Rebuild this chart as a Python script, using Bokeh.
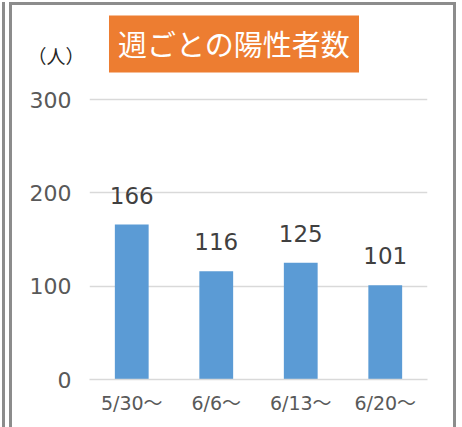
from bokeh.plotting import figure
from bokeh.models import ColumnDataSource, LabelSet, Label, FixedTicker, LinearAxis
from bokeh.core.properties import value
from bokeh.embed import file_html
from bokeh.resources import INLINE

# ---- data ----
weeks = ["5/30〜", "6/6〜", "6/13〜", "6/20〜"]
cases = [166, 116, 125, 101]
y_ticks = [0, 100, 200, 300]
title_text = "週ごとの陽性者数"
unit_text = "（人）"

# ---- layout / style constants ----
Y_MAX = 390          # extends frame upward so the title box fits inside it
UNIT_Y = 347         # vertical position of the unit caption
NUM_FONT = "DejaVu Sans"
JP_FONT = "Noto Sans CJK JP"
GRID = "#d9d9d9"
TICK_TXT = "#595959"

src = ColumnDataSource(dict(week=weeks, cases=cases,
                            lbl=[str(v) for v in cases]))

p = figure(x_range=weeks, y_range=(0, Y_MAX), width=441, height=422,
           output_backend="svg", toolbar_location=None,
           min_border_left=77, min_border_right=26,
           min_border_top=10, min_border_bottom=48)
p.styles = {"margin-left": "12px", "margin-top": "5px",
            "box-shadow": "0 0 0 3px #8c8c8c, -4px 0 0 3px #ffffff, -7px 0 0 3px #8c8c8c"}
p.outline_line_color = None
p.background_fill_color = "white"
p.border_fill_color = "white"

p.vbar(x="week", top="cases", width=0.4, source=src,
       fill_color="#5B9BD5", line_color=None)

p.add_layout(LabelSet(x="week", y="cases", text="lbl", source=src,
                      text_align="center", text_baseline="alphabetic",
                      y_offset=21, text_font_size="23px",
                      text_font=value(NUM_FONT), text_color="#404040"))

# numeric y axis
p.yaxis.ticker = FixedTicker(ticks=y_ticks)
p.yaxis.axis_line_color = None
p.yaxis.major_tick_line_color = None
p.yaxis.minor_tick_line_color = None
p.yaxis.major_tick_out = 0
p.yaxis.major_tick_in = 0
p.yaxis.major_label_standoff = 18
p.yaxis.major_label_text_font_size = "22px"
p.yaxis.major_label_text_font = NUM_FONT
p.yaxis.major_label_text_color = TICK_TXT

# unit caption as an extra left axis
unit_axis = LinearAxis(ticker=FixedTicker(ticks=[UNIT_Y]),
                       major_label_overrides={UNIT_Y: unit_text},
                       axis_line_color=None, major_tick_line_color=None,
                       minor_tick_line_color=None, major_tick_out=0, major_tick_in=0,
                       major_label_standoff=-58,
                       major_label_text_font=JP_FONT,
                       major_label_text_font_size="19px",
                       major_label_text_color="#262626")
p.add_layout(unit_axis, "left")

p.xaxis.axis_line_color = GRID
p.xaxis.axis_line_width = 1.5
p.xaxis.major_tick_line_color = None
p.xaxis.minor_tick_line_color = None
p.xaxis.major_tick_out = 0
p.xaxis.major_tick_in = 0
p.xaxis.major_label_standoff = 12
p.xaxis.major_label_text_font_size = "19px"
p.xaxis.major_label_text_font = "'DejaVu Sans', 'Noto Sans CJK JP'"
p.xaxis.major_label_text_color = TICK_TXT

p.xgrid.grid_line_color = None
p.ygrid.ticker = FixedTicker(ticks=y_ticks)
p.ygrid.grid_line_color = GRID
p.ygrid.grid_line_width = 1.5

# title box (inside the frame)
p.add_layout(Label(x=144.5, y=337, x_units="screen", y_units="screen",
                   text=title_text, text_align="center", text_baseline="middle",
                   text_font=JP_FONT, text_font_size="29px", text_color="white",
                   background_fill_color="#ED7D31", padding=9))

open("out.html", "w").write(file_html(p, INLINE))
